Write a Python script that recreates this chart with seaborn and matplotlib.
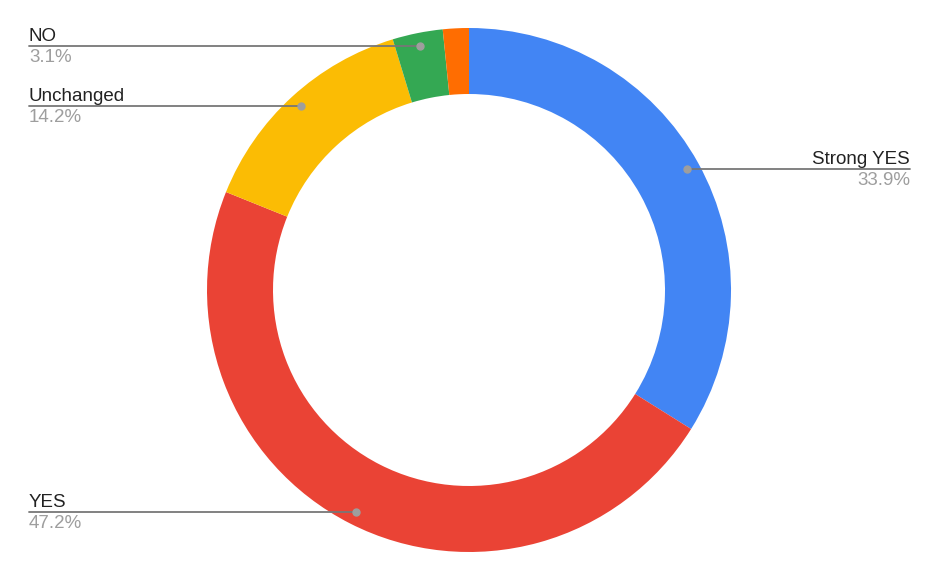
import numpy as np
import matplotlib
matplotlib.use("Agg")
import matplotlib.pyplot as plt
import seaborn as sns

# Data (clockwise from 12 o'clock)
labels = ["Strong YES", "YES", "Unchanged", "NO", ""]
values = [33.9, 47.2, 14.2, 3.1, 1.6]
colors = ["#4285F4", "#EA4335", "#FBBC04", "#34A853", "#FF6D01"]
label_side = ["right", "left", "left", "left", None]

sns.set_theme(style="white")
plt.rcParams["font.family"] = ["Liberation Sans", "DejaVu Sans"]

W, H = 940, 581
fig = plt.figure(figsize=(W / 100, H / 100), dpi=100)
ax = fig.add_axes([0, 0, 1, 1])

cx, cy = 469, H - 290
R = 262
ring = 66

ax.pie(values, colors=sns.color_palette(colors), startangle=90, counterclock=False,
       center=(cx, cy), radius=R, frame=True,
       wedgeprops=dict(width=ring, linewidth=0))
ax.set_xlim(0, W)
ax.set_ylim(0, H)
ax.set_aspect("equal")
ax.axis("off")

# leader lines + labels
total = sum(values)
cum = 0
for lab, v, side in zip(labels, values, label_side):
    mid = cum + v / 2
    cum += v
    if side is None:
        continue
    ang = np.deg2rad(90 - mid / total * 360)
    dx = cx + 249 * np.cos(ang)
    dy = cy + 249 * np.sin(ang)
    if side == "left":
        tx, ha = 29, "left"
    else:
        tx, ha = 910, "right"
    ax.plot([tx, dx], [dy, dy], color="#777777", lw=1.3, zorder=3)
    ax.plot(dx, dy, "o", color="#9E9E9E", ms=5, zorder=4)
    ax.text(tx, dy + 5, lab, ha=ha, va="baseline", fontsize=13.5, color="#222222")
    ax.text(tx, dy - 3, f"{v:.1f}%", ha=ha, va="top", fontsize=13.5, color="#9E9E9E")

fig.savefig("out.png", dpi=100)
